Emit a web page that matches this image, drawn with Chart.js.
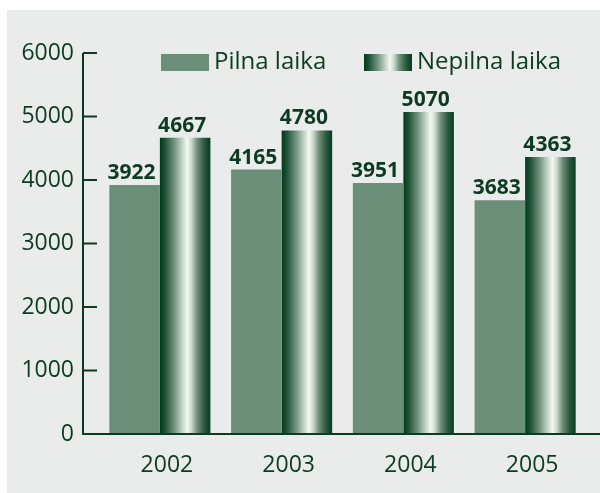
<!DOCTYPE html>
<html>
<head>
<meta charset="utf-8">
<script src="https://cdn.jsdelivr.net/npm/chart.js@4/dist/chart.umd.min.js"></script>
<style>
  html, body { margin: 0; padding: 0; background: #ffffff; }
  #wrap { width: 600px; height: 493px; position: relative; }
</style>
</head>
<body>
<div id="wrap"><canvas id="c" width="600" height="493"></canvas></div>
<script>
// ---- data ----
const categories = ['2002', '2003', '2004', '2005'];
const seriesNames = ['Pilna laika', 'Nepilna laika'];
const pilnaValues = [3922, 4165, 3951, 3683];
const nepilnaValues = [4667, 4780, 5070, 4363];
const yTicks = [0, 1000, 2000, 3000, 4000, 5000, 6000];

// ---- styles ----
const FONT = "'Open Sans', 'Noto Sans', sans-serif";
const TEXT = '#0c3a22';
const PILNA = '#6a8e78';
const PANEL = '#eaeceb';
const CAT_PCT = 0.83;
const BAR_PCT = 1.0;
const STOPS = [
  [0.00, '#003a1d'], [0.10, '#1f5036'], [0.28, '#6f917c'], [0.42, '#b7cbbd'],
  [0.54, '#f4f8f3'], [0.62, '#cddbd1'], [0.74, '#6e8e7a'], [0.88, '#2b5940'], [1.00, '#043c20']
];
function makeGrad(ctx, x0, x1) {
  const g = ctx.createLinearGradient(x0, 0, x1, 0);
  STOPS.forEach(s => g.addColorStop(s[0], s[1]));
  return g;
}

const nepilnaFill = (c) => {
  const chart = c.chart;
  const xs = chart.scales && chart.scales.x;
  if (!xs || c.type !== 'data' || !isFinite(xs.left) || xs.right <= xs.left) return '#5a8068';
  const cw = (xs.right - xs.left) / categories.length;
  const bw = cw * CAT_PCT * BAR_PCT / 2;
  const cx = xs.getPixelForValue(c.dataIndex);
  return makeGrad(chart.ctx, cx, cx + bw);
};

const panelPlugin = {
  id: 'panel',
  beforeDraw(chart) {
    const ctx = chart.ctx;
    ctx.save();
    ctx.fillStyle = PANEL;
    ctx.fillRect(7, 10, 593, 483);
    ctx.restore();
  }
};

const axesPlugin = {
  id: 'axesLines',
  afterDatasetsDraw(chart) {
    const ctx = chart.ctx;
    const ys = chart.scales.y;
    const axisX = chart.chartArea.left - 16;
    const y0 = ys.getPixelForValue(0);
    const yTop = ys.getPixelForValue(yTicks[yTicks.length - 1]);
    ctx.save();
    ctx.strokeStyle = TEXT;
    ctx.lineWidth = 2;
    ctx.beginPath();
    ctx.moveTo(axisX, yTop);
    ctx.lineTo(axisX, y0);
    ctx.lineTo(600, y0);
    yTicks.forEach(v => {
      const yy = ys.getPixelForValue(v);
      ctx.moveTo(axisX, yy);
      ctx.lineTo(axisX + 14, yy);
    });
    ctx.stroke();
    ctx.restore();
  }
};

const labelPlugin = {
  id: 'valueLabels',
  afterDatasetsDraw(chart) {
    const ctx = chart.ctx;
    ctx.save();
    ctx.fillStyle = TEXT;
    ctx.font = "bold 21px " + FONT;
    ctx.textAlign = 'center';
    ctx.textBaseline = 'alphabetic';
    chart.data.datasets.forEach((ds, di) => {
      const meta = chart.getDatasetMeta(di);
      meta.data.forEach((el, i) => {
        ctx.fillText(String(ds.data[i]), el.x - 3, el.y - 6);
      });
    });
    ctx.restore();
  }
};

const legendPlugin = {
  id: 'customLegend',
  afterDraw(chart) {
    const ctx = chart.ctx;
    ctx.save();
    ctx.font = "24px " + FONT;
    ctx.textBaseline = 'alphabetic';
    ctx.textAlign = 'left';
    const items = [
      { x: 161, label: seriesNames[0] },
      { x: 364, label: seriesNames[1] }
    ];
    items.forEach((it, i) => {
      ctx.fillStyle = i === 0 ? PILNA : makeGrad(ctx, it.x, it.x + 48);
      ctx.fillRect(it.x, 54, 48, 17);
      ctx.fillStyle = TEXT;
      ctx.fillText(it.label, it.x + 53, 69);
    });
    ctx.restore();
  }
};

new Chart(document.getElementById('c'), {
  type: 'bar',
  data: {
    labels: categories,
    datasets: [
      { label: seriesNames[0], data: pilnaValues, backgroundColor: PILNA,
        categoryPercentage: CAT_PCT, barPercentage: BAR_PCT, borderWidth: 0 },
      { label: seriesNames[1], data: nepilnaValues, backgroundColor: nepilnaFill,
        categoryPercentage: CAT_PCT, barPercentage: BAR_PCT, borderWidth: 0 }
    ]
  },
  options: {
    responsive: false,
    animation: false,
    devicePixelRatio: 1,
    layout: { padding: { left: 22, right: 14, top: 53, bottom: 9 } },
    plugins: {
      legend: { display: false },
      tooltip: { enabled: false }
    },
    scales: {
      x: {
        grid: { display: false, drawTicks: false },
        border: { display: false },
        ticks: { color: TEXT, font: { family: FONT, size: 23 }, padding: 18, labelOffset: 7 },
        afterFit(s) { s.height = 50; }
      },
      y: {
        min: 0, max: 6000,
        grid: { display: false, drawTicks: false },
        border: { display: false },
        afterBuildTicks(s) { s.ticks = yTicks.map(v => ({ value: v })); },
        ticks: { color: TEXT, font: { family: FONT, size: 23 }, padding: 25,
                 callback: (v) => String(v) },
        afterFit(s) { s.width = 77; }
      }
    }
  },
  plugins: [panelPlugin, axesPlugin, labelPlugin, legendPlugin]
});
</script>
</body>
</html>
